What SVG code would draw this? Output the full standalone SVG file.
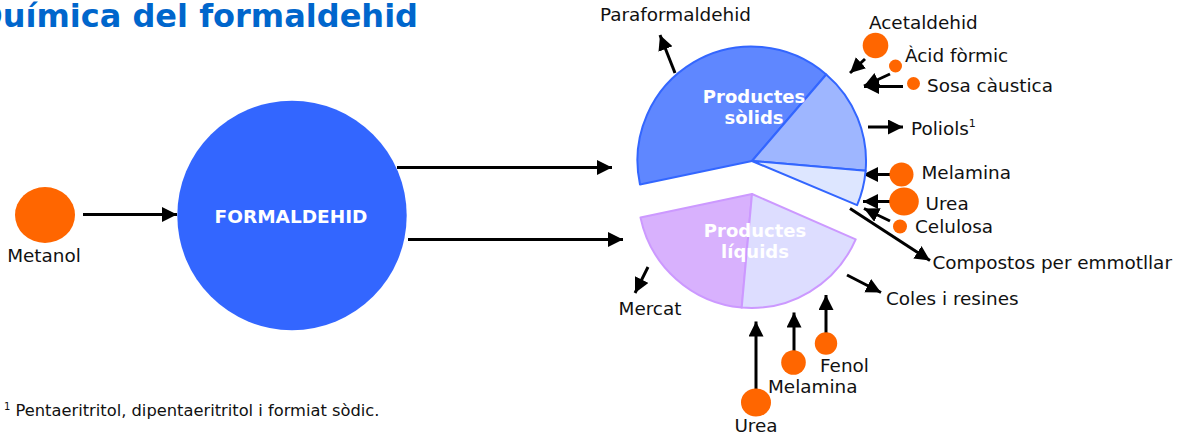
<svg xmlns="http://www.w3.org/2000/svg" width="1187" height="434" viewBox="0 0 1187 434">
<style>
text{font-family:"DejaVu Sans","Liberation Sans",sans-serif;}
.lbl{font-size:18.4px;fill:#111;}
.big{font-size:18px;font-weight:bold;fill:#fff;text-anchor:middle;}
.dot{fill:#FF6600;}
.con{stroke:#000;stroke-width:3;fill:none;marker-end:url(#ah);}
.sb{stroke:#3366FF;stroke-width:2;stroke-linejoin:round;}
.sp{stroke:#CC99FF;stroke-width:2;stroke-linejoin:round;}
</style>
<defs>
<marker id="ah" markerWidth="16" markerHeight="16" refX="15" refY="7.5" orient="auto" markerUnits="userSpaceOnUse"><path d="M0,0 L15,7.5 L0,15 Z" fill="#000"/></marker>
</defs>
<rect width="1187" height="434" fill="#fff"/>
<text id="title" x="418" y="27" text-anchor="end" style="font-size:32px;font-weight:bold;fill:#0066CC">Química del formaldehid</text>

<g id="connectors">
<line class="con" x1="83" y1="214.5" x2="177" y2="214.5"/>
<line class="con" x1="397" y1="167.5" x2="612" y2="167.5"/>
<line class="con" x1="408" y1="239.5" x2="623" y2="239.5"/>
<line class="con" x1="675" y1="73" x2="660" y2="35"/>
<line class="con" x1="865" y1="59" x2="850" y2="73"/>
<line class="con" x1="890" y1="74" x2="864" y2="86"/>
<line class="con" x1="903" y1="86.5" x2="864" y2="86.5"/>
<line class="con" x1="868" y1="127" x2="903" y2="127"/>
<line class="con" x1="890" y1="174.5" x2="863" y2="174.5"/>
<line class="con" x1="890" y1="201.5" x2="863" y2="201.5"/>
<line class="con" x1="890" y1="221" x2="864" y2="208.5"/>
<line class="con" x1="850" y1="208.5" x2="930" y2="260.5"/>
<line class="con" x1="847" y1="275" x2="881" y2="292.5"/>
<line class="con" x1="648" y1="267" x2="635" y2="293"/>
<line class="con" x1="756" y1="389" x2="756" y2="321.5"/>
<line class="con" x1="794" y1="351" x2="794" y2="312.5"/>
<line class="con" x1="826" y1="333" x2="826" y2="295"/>
</g>

<g id="metanol">
<ellipse class="dot" cx="45" cy="215" rx="30" ry="28"/>
<text class="lbl" x="44" y="262" text-anchor="middle">Metanol</text>
</g>

<g id="formaldehid">
<circle cx="292" cy="215.5" r="114.7" fill="#3366FF"/>
<text class="big" x="291" y="223" style="font-size:18.5px">FORMALDEHID</text>
</g>

<g id="productes-solids">
<path class="sb" fill="#5F87FF" d="M752,161 L640,184.5 A114,114 0 0,1 826.2,74.5 Z"/>
<path class="sb" fill="#9EB6FF" d="M752,161 L826.2,74.5 A114,114 0 0,1 865.6,170.8 Z"/>
<path class="sb" fill="#DDE6FF" d="M752,161 L865.6,170.8 A114,114 0 0,1 857.1,205.2 Z"/>
<text class="big" x="754" y="103">Productes</text>
<text class="big" x="754" y="123.5">sòlids</text>
</g>

<g id="productes-liquids">
<path class="sp" fill="#D8B1FD" d="M752,194 L741.7,307.6 A114,114 0 0,1 640.5,217.6 Z"/>
<path class="sp" fill="#DDDDFF" d="M752,194 L855.7,239.3 A114,114 0 0,1 741.7,307.6 Z"/>
<text class="big" x="755" y="237">Productes</text>
<text class="big" x="755" y="257.5">líquids</text>
</g>

<g id="paraformaldehid"><text class="lbl" x="600" y="21">Paraformaldehid</text></g>
<g id="acetaldehid">
<circle class="dot" cx="875.5" cy="45.5" r="12.8"/>
<text class="lbl" x="869" y="29">Acetaldehid</text>
</g>
<g id="acid-formic">
<circle class="dot" cx="895.5" cy="66" r="6.5"/>
<text class="lbl" x="905" y="62">Àcid fòrmic</text>
</g>
<g id="sosa-caustica">
<circle class="dot" cx="913.5" cy="83.5" r="6.5"/>
<text class="lbl" x="927" y="92">Sosa càustica</text>
</g>
<g id="poliols">
<text class="lbl" x="911" y="135">Poliols<tspan dy="-8" style="font-size:11px">1</tspan></text>
</g>
<g id="melamina-s">
<circle class="dot" cx="901.5" cy="174.5" r="12"/>
<text class="lbl" x="921.5" y="178.5">Melamina</text>
</g>
<g id="urea-s">
<ellipse class="dot" cx="904" cy="201.5" rx="14.8" ry="14"/>
<text class="lbl" x="925.5" y="209.5">Urea</text>
</g>
<g id="celulosa">
<circle class="dot" cx="900" cy="226.5" r="7"/>
<text class="lbl" x="915" y="232.5">Celulosa</text>
</g>
<g id="compostos"><text class="lbl" x="932.5" y="268.5">Compostos per emmotllar</text></g>
<g id="coles"><text class="lbl" x="886" y="305">Coles i resines</text></g>
<g id="mercat"><text class="lbl" x="650" y="315" text-anchor="middle">Mercat</text></g>
<g id="urea-l">
<ellipse class="dot" cx="756" cy="402.5" rx="15" ry="14"/>
<text class="lbl" x="756" y="432" text-anchor="middle">Urea</text>
</g>
<g id="melamina-l">
<circle class="dot" cx="793.5" cy="362.5" r="12.3"/>
<text class="lbl" x="768" y="392.5">Melamina</text>
</g>
<g id="fenol">
<circle class="dot" cx="826" cy="343.5" r="11.2"/>
<text class="lbl" x="820" y="371.5">Fenol</text>
</g>
<g id="footnote">
<text x="4" y="416" style="font-size:16.3px;fill:#111"><tspan dy="-6" style="font-size:10px">1</tspan><tspan dy="6"> Pentaeritritol, dipentaeritritol i formiat sòdic.</tspan></text>
</g>
</svg>
